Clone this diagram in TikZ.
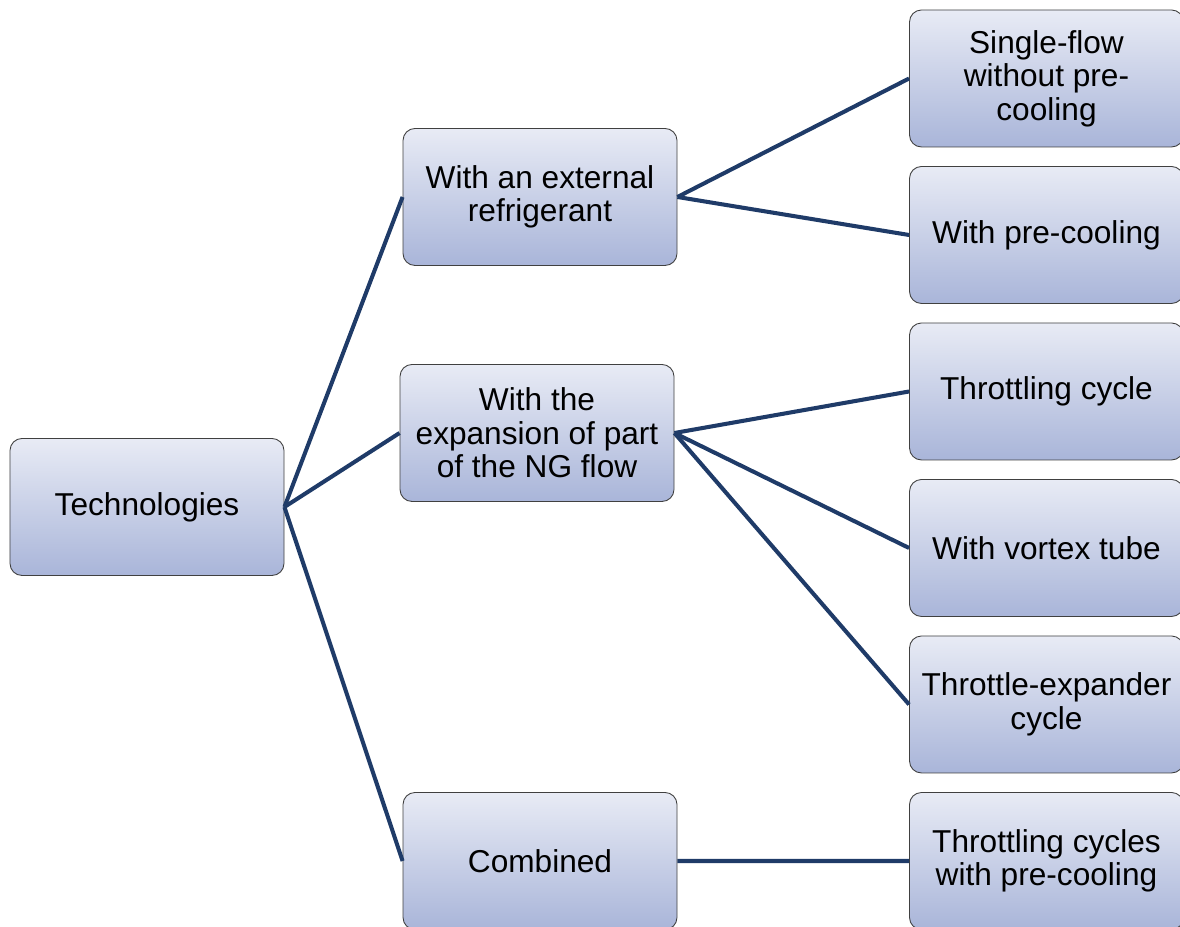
\documentclass[tikz,border=0pt]{standalone}
\usepackage{fontspec}
\setmainfont{Liberation Sans}
\usetikzlibrary{positioning}
\definecolor{boxtop}{HTML}{E8EBF5}
\definecolor{boxbot}{HTML}{A9B5D9}
\definecolor{boxline}{HTML}{404040}
\definecolor{linkblue}{HTML}{1F3B68}

\begin{document}
\begin{tikzpicture}[node distance=3.13cm,on grid,
    item/.style={draw=boxline,line width=0.5pt,rounded corners=0.24cm,
      top color=boxtop,bottom color=boxbot,minimum width=5.48cm,
      minimum height=2.74cm,align=center,inner sep=2pt,
      font=\fontsize{18}{19}\selectfont},
    link/.style={draw=linkblue,line width=2.3pt}]
   \useasboundingbox (-2.94,-8.4) rectangle (20.66,10.14);
   \node[item] (tech) {Technologies};
   \node[item] (ext)  [above right=6.2cm and 7.86cm of tech] {With an external\\refrigerant};
   \node[item] (exp)  [above right=1.48cm and 7.8cm of tech] {With the\\expansion of part\\of the NG flow};
   \node[item] (comb) [below right=7.08cm and 7.86cm of tech] {Combined};
   \node[item] (sf)   [above right=2.37cm and 10.13cm of ext] {Single-flow\\without pre-\\cooling};
   \node[item] (pc)   [below=of sf] {With pre-cooling};
   \node[item] (thr)  [below=of pc] {Throttling cycle};
   \node[item] (vt)   [below=of thr] {With vortex tube};
   \node[item] (te)   [below=of vt] {Throttle-expander\\cycle};
   \node[item] (tpc)  [below=of te] {Throttling cycles\\with pre-cooling};
    \path[link]
    (tech.east) edge (ext.west)
    edge (exp.west)
    edge (comb.west)
    (ext.east) edge (sf.west)
    edge (pc.west)
    (exp.east) edge (thr.west)
    edge (vt.west)
    edge (te.west)
    (comb.east) edge (tpc.west);
\end{tikzpicture}
\end{document}
